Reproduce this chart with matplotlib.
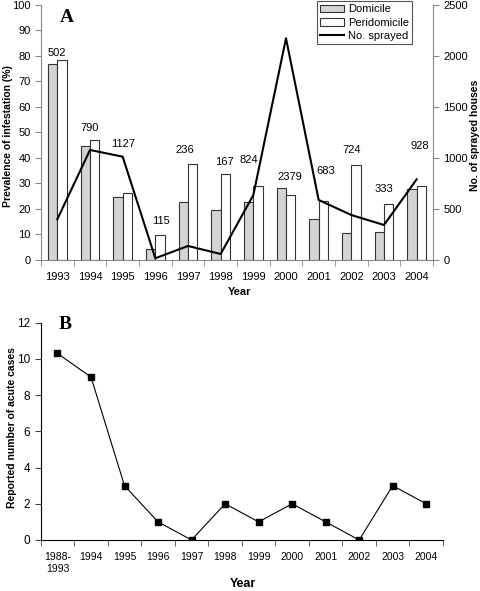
import numpy as np
import matplotlib.pyplot as plt

plt.rcParams['font.family'] = ['Liberation Sans', 'DejaVu Sans']

years = ['1993', '1994', '1995', '1996', '1997', '1998',
         '1999', '2000', '2001', '2002', '2003', '2004']
domicile = [76.7, 44.6, 24.4, 4.3, 22.7, 19.3, 22.7, 28.2, 15.8, 10.3, 10.9, 27.6]
peridomicile = [78.2, 47.1, 26.3, 9.6, 37.7, 33.6, 28.8, 25.3, 23.0, 37.3, 21.8, 28.8]
sprayed = [395, 1076, 1010, 12, 133, 54, 633, 2173, 585, 437, 339, 788]
counts = ['502', '790', '1127', '115', '236', '167', '824', '2379', '683', '724', '333', '928']

years_b = ['1988-\n1993', '1994', '1995', '1996', '1997', '1998',
           '1999', '2000', '2001', '2002', '2003', '2004']
cases = [10.3, 9, 3, 1, 0, 2, 1, 2, 1, 0, 3, 2]

W, H = 481, 591
fig = plt.figure(figsize=(W / 100, H / 100), dpi=100)

# ---- panel A ----
ax = fig.add_axes([41 / W, 1 - 259.5 / H, 392 / W, 254.5 / H])
x = np.arange(len(years))
bw = 0.29
b1 = ax.bar(x - bw / 2, domicile, bw, color='#d4d4d4', edgecolor='#333333',
            linewidth=0.8, label='Domicile')
b2 = ax.bar(x + bw / 2, peridomicile, bw, color='white', edgecolor='#333333',
            linewidth=0.8, label='Peridomicile')
ax.set_xlim(-0.5, len(years) - 0.5)
ax.set_ylim(0, 100)
ax.set_yticks(np.arange(0, 101, 10))
ax.set_xticks(x)
ax.set_xticklabels(years)
ax.set_xticks(np.arange(-0.5, len(years)), minor=True)
ax.tick_params(axis='x', which='major', length=0, pad=9, labelsize=8)
ax.tick_params(axis='x', which='minor', length=4, color='#888888')
ax.tick_params(axis='y', length=4, color='#888888', labelsize=8)
for s in ['top', 'right']:
    ax.spines[s].set_visible(False)
for s in ['left', 'bottom']:
    ax.spines[s].set_color('#888888')
ax.text(0.08, 98.5, 'A', fontsize=14, fontweight='bold', family='Liberation Serif',
        va='top', ha='left')

# label placement (in category units / percent)
label_dx = [0, 0, 0, 0.17, -0.1, 0.12, -0.15, 0.12, 0.22, 0, 0, 0.1]
label_y = [81, 51.7, 45.2, 15.1, 43, 38.3, 39.1, 32.5, 34.8, 43, 27.7, 44.6]
for xi, dx, ly, t in zip(x, label_dx, label_y, counts):
    ax.text(xi + dx, ly, t, ha='center', va='center', fontsize=8)

ax2 = ax.twinx()
l1, = ax2.plot(x, sprayed, color='black', linewidth=1.5, label='No. sprayed')
ax2.set_ylim(0, 2500)
ax2.set_yticks(np.arange(0, 2501, 500))
ax2.tick_params(axis='y', length=4, color='#888888', labelsize=8)
for s in ['top', 'left', 'bottom']:
    ax2.spines[s].set_visible(False)
ax2.spines['right'].set_color('#888888')

leg = ax2.legend([b1, b2, l1], ['Domicile', 'Peridomicile', 'No. sprayed'],
                 loc='upper right', bbox_to_anchor=(412 / W, 1 - 1 / H),
                 bbox_transform=fig.transFigure, borderaxespad=0,
                 fontsize=8, fancybox=False, framealpha=1, edgecolor='#555555',
                 handlelength=2.2, handleheight=0.7, borderpad=0.3, labelspacing=0.3,
                 handletextpad=0.3)
leg.get_frame().set_linewidth(0.8)

fig.text(8 / W, 1 - 136 / H, 'Prevalence of infestation (%)', rotation=90,
         ha='center', va='center', fontsize=7.5, fontweight='bold')
fig.text(475 / W, 1 - 135 / H, 'No. of sprayed houses', rotation=90,
         ha='center', va='center', fontsize=7.5, fontweight='bold')
fig.text(240 / W, 1 - 292 / H, 'Year', ha='center', va='center',
         fontsize=8, fontweight='bold')

# ---- panel B ----
bx = fig.add_axes([40.7 / W, 1 - 540 / H, 402.3 / W, 217.3 / H])
xb = np.arange(len(years_b))
bx.plot(xb, cases, color='black', linewidth=0.8, marker='s', markersize=5)
bx.set_xlim(-0.5, len(years_b) - 0.5)
bx.set_ylim(0, 12)
bx.set_yticks(np.arange(0, 13, 2))
bx.set_xticks(xb)
bx.set_xticklabels(years_b)
bx.set_xticks(np.arange(-0.5, len(years_b)), minor=True)
bx.tick_params(axis='x', which='major', length=0, pad=9, labelsize=7.5)
bx.tick_params(axis='x', which='minor', length=4, color='#444444')
bx.tick_params(axis='y', length=4, color='#444444', labelsize=8.5)
for s in ['top', 'right']:
    bx.spines[s].set_visible(False)
bx.text(0.05, 12.35, 'B', fontsize=14, fontweight='bold', family='Liberation Serif',
        va='top', ha='left')

fig.text(12 / W, 1 - 428 / H, 'Reported number of acute cases', rotation=90,
         ha='center', va='center', fontsize=7.5, fontweight='bold')
fig.text(243 / W, 1 - 584 / H, 'Year', ha='center', va='center',
         fontsize=9, fontweight='bold')

fig.savefig('out.png', dpi=100)
